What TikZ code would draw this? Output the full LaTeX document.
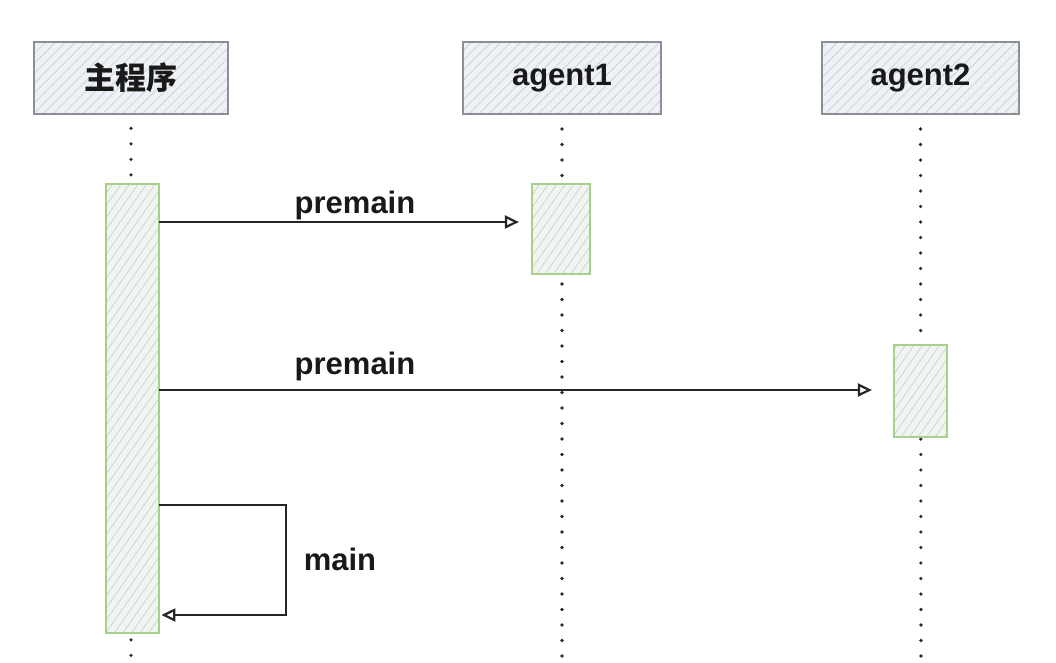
\documentclass[tikz,border=0pt]{standalone}
\usepackage{fontspec}
\setmainfont{Liberation Sans}
\newfontfamily\cjk{Noto Sans CJK SC}
\usetikzlibrary{patterns.meta,arrows.meta}
\definecolor{hdrfill}{HTML}{EEF2F7}
\definecolor{hdrline}{HTML}{8C9096}
\definecolor{hatch}{HTML}{CDD2D8}
\definecolor{actfill}{HTML}{F1F5F2}
\definecolor{actline}{HTML}{A8CF8C}
\definecolor{dotc}{HTML}{2A2A2A}
\tikzset{
  x=1pt, y=-1pt,
  lbl/.style={font=\fontsize{31}{36}\selectfont\bfseries, text=black!90},
  header/.style={draw=hdrline, line width=2pt, minimum height=72pt, inner sep=0pt,
    preaction={fill=hdrfill},
    pattern={Lines[angle=45,distance=7pt,line width=0.8pt]}, pattern color=hatch,
    lbl},
  actbox/.style={draw=actline, line width=2.2pt, inner sep=0pt, minimum width=54pt,
    preaction={fill=actfill},
    pattern={Lines[angle=55,distance=7pt,line width=0.8pt]}, pattern color=hatch},
  lifeline/.style={dotc, line width=3.6pt, line cap=round, dash pattern=on 0pt off 15.5pt},
  msg/.style={line width=2.6pt, black!85, -{Triangle[open,length=14pt,width=13pt,line width=2.2pt]}},
}
\begin{document}
\begin{tikzpicture}
\useasboundingbox (0,0) rectangle (1056,662);
% lifelines
\coordinate (l0b) at (131,662);
\coordinate (l1b) at (562,662);
\coordinate (l2b) at (921,662);
\node[header, minimum width=194pt] (h0) at (131,78) {\cjk\bfseries 主程序};
\node[header, minimum width=198pt] (h1) at (562,78) {agent1};
\node[header, minimum width=197pt] (h2) at (920.5,78) {agent2};
\draw[lifeline] ([yshift=-14pt]h0.south) -- (l0b);
\draw[lifeline] ([yshift=-14pt]h1.south) -- (l1b);
\draw[lifeline] ([yshift=-14pt]h2.south) -- (l2b);
% activations
\node[actbox, minimum width=53pt, minimum height=449pt] (a0) at (132.5,408.5) {};
\node[actbox, minimum width=58pt, minimum height=90pt] (a1) at (561,229) {};
\node[actbox, minimum width=53pt, minimum height=92pt] (a2) at (920.5,391) {};
% messages
\draw[msg, shorten >=12pt] (a0.east |- 0,222) -- (a1.west |- 0,222);
\node[lbl, anchor=base] (m1) at (355,213) {premain};
\draw[msg, shorten >=21pt] (a0.east |- 0,390) -- (a2.west |- 0,390);
\node[lbl, anchor=base] (m2) at (355,374) {premain};
\coordinate (s1) at (286,505);
\coordinate (s2) at (286,615);
\draw[msg] (a0.east |- s1) -- (s1) -- (s2) -- ([xshift=2pt]a0.east |- s2);
\node[lbl, anchor=base] (m3) at (340,570) {main};
\end{tikzpicture}
\end{document}
